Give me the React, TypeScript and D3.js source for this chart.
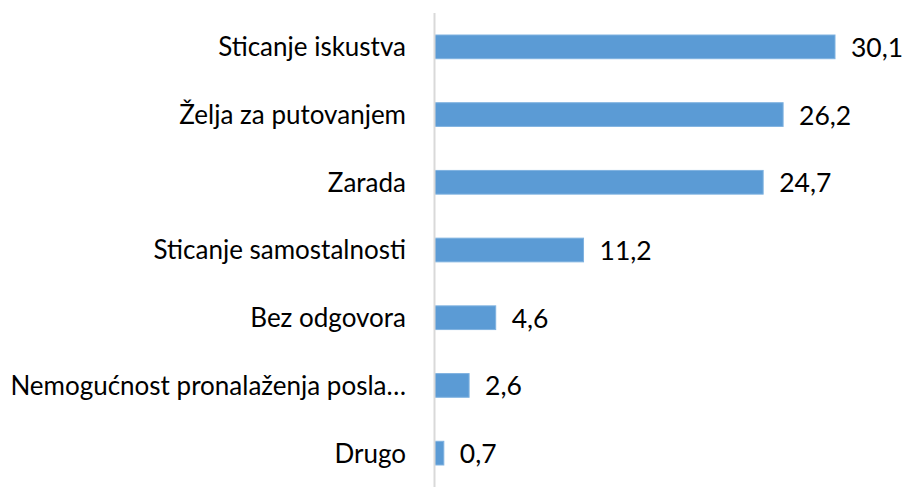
import React from "react";
import * as d3 from "d3";

const categories = [
  "Sticanje iskustva",
  "Želja za putovanjem",
  "Zarada",
  "Sticanje samostalnosti",
  "Bez odgovora",
  "Nemogućnost pronalaženja posla…",
  "Drugo",
];
const values = [30.1, 26.2, 24.7, 11.2, 4.6, 2.6, 0.7];

const W = 909;
const H = 487;
const FONT = "Lato, 'Open Sans', sans-serif";

export default function App() {
  const x0 = 434.5;
  const x = d3.scaleLinear().domain([0, 30.1]).range([x0, 835]);
  const y = d3.scaleBand<string>().domain(categories).range([13, 487]).paddingInner(0.65).paddingOuter(0.325);
  const fmt = (v: number) => v.toFixed(1).replace(".", ",");
  return (
    <svg width={W} height={H} style={{ position: "absolute", left: 0, top: 0, background: "#fff" }}>
      {categories.map((c, i) => {
        const yy = y(c)!;
        const bh = y.bandwidth();
        const cy = yy + bh / 2;
        return (
          <g key={c}>
            <rect x={x(0)} y={yy} width={x(values[i]) - x(0)} height={bh} fill="#5B9BD5" stroke="#7FB2E0" strokeWidth={1} />
            <text x={406} y={cy} dy="0.36em" textAnchor="end" fontFamily={FONT} fontSize={26} fill="#000">
              {c}
            </text>
            <text x={x(values[i]) + 16} y={cy} dy="0.38em" textAnchor="start" fontFamily={FONT} fontSize={26.5} fill="#000">
              {fmt(values[i])}
            </text>
          </g>
        );
      })}
      <line x1={x0} x2={x0} y1={13} y2={487} stroke="#D9D9D9" strokeWidth={2} />
    </svg>
  );
}
